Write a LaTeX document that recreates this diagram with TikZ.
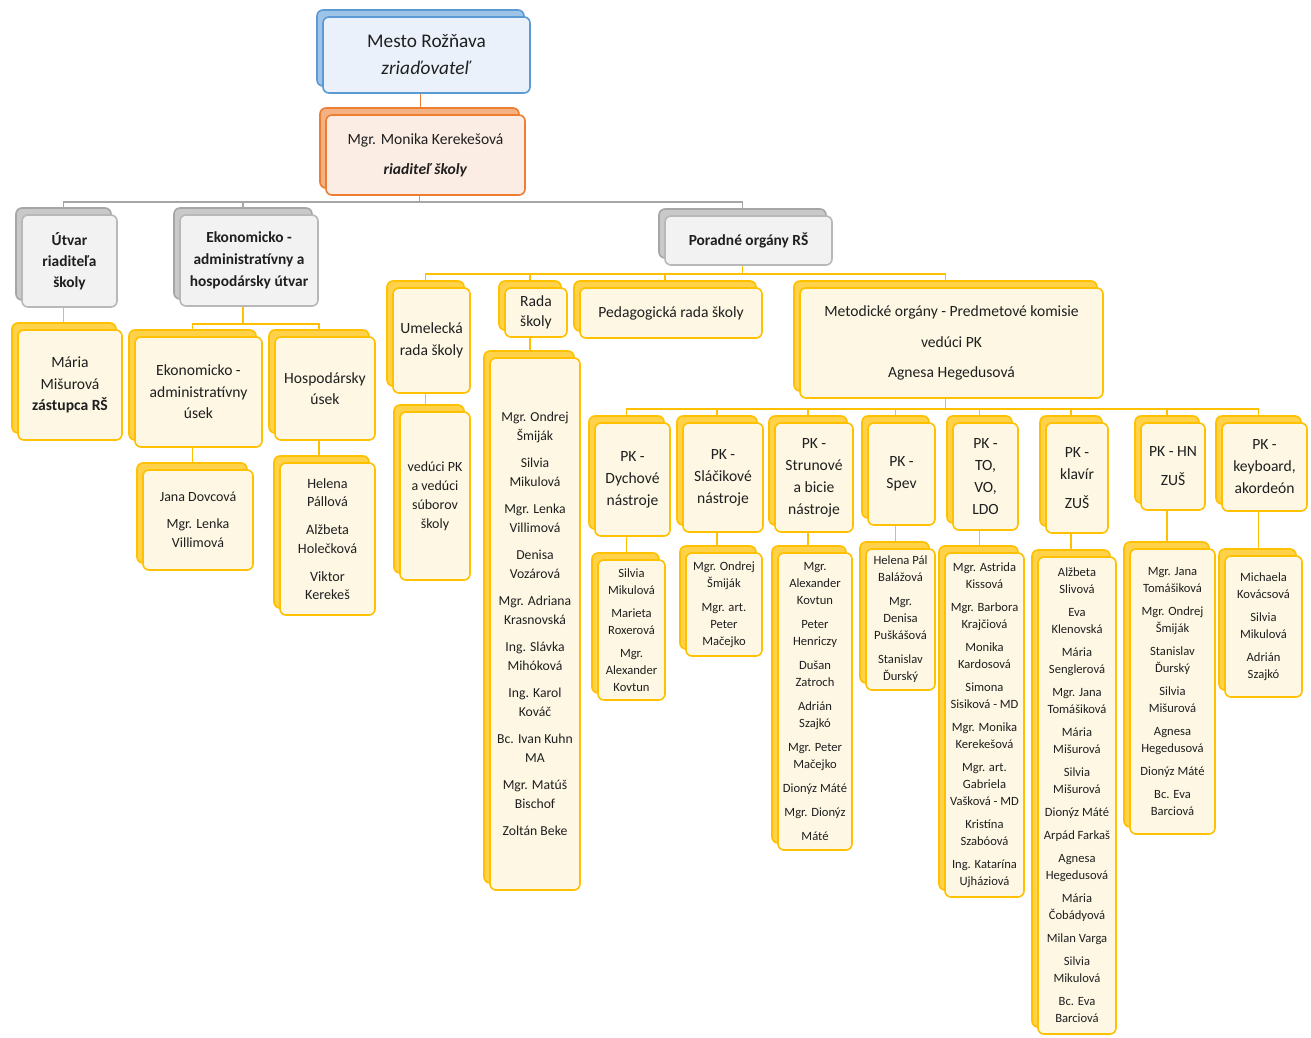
\documentclass[tikz,border=0pt]{standalone}
\usepackage{fontspec}
\setmainfont{Carlito}
\usepackage{xcolor}
\usepackage{tikz}
\usetikzlibrary{calc}
\usetikzlibrary{shadows}
\usetikzlibrary{backgrounds}

\definecolor{goldline}{HTML}{FFC000}
\definecolor{goldback}{HTML}{FFD24A}
\definecolor{goldfront}{HTML}{FDF7E4}
\definecolor{grayline}{HTML}{A6A6A6}
\definecolor{grayback}{HTML}{C9C9C9}
\definecolor{grayfront}{HTML}{F2F2F2}
\definecolor{blueline}{HTML}{5B9BD5}
\definecolor{blueback}{HTML}{9DC3E6}
\definecolor{bluefront}{HTML}{EAF1FA}
\definecolor{orangeline}{HTML}{ED7D31}
\definecolor{orangeback}{HTML}{F4B183}
\definecolor{orangefront}{HTML}{FCEDE4}

\tikzstyle{box} = [rounded corners=6pt, line width=1.6pt, align=center, inner sep=0pt, text=black!88]
\tikzstyle{goldbox} = [box, draw=goldline, fill=goldfront, copy shadow={shadow xshift=-6pt, shadow yshift=7pt, draw=goldline, fill=goldback, line width=1.6pt}]
\tikzstyle{graybox} = [box, draw=grayline!80, fill=grayfront, copy shadow={shadow xshift=-6pt, shadow yshift=7pt, draw=grayline, fill=grayback, line width=1.6pt}]
\tikzstyle{bluebox} = [box, draw=blueline, fill=bluefront, copy shadow={shadow xshift=-6pt, shadow yshift=7pt, draw=blueline, fill=blueback, line width=1.6pt}]
\tikzstyle{orangebox} = [box, draw=orangeline, fill=orangefront, copy shadow={shadow xshift=-6pt, shadow yshift=7pt, draw=orangeline, fill=orangeback, line width=1.6pt}]
\tikzstyle{yline} = [draw=goldline, line width=1.5pt]
\tikzstyle{gline} = [draw=grayline, line width=1.5pt]
\tikzstyle{oline} = [draw=orangeline, line width=1.5pt]
\tikzstyle{title} = [font=\fontsize{15.6}{22}\selectfont]
\tikzstyle{list} = [font=\fontsize{12.6}{17}\selectfont]

\begin{document}
\begin{tikzpicture}[x = 1pt, y = -1pt]
	\useasboundingbox (0, 0) rectangle (1311, 1037) ;

	% top
	\node[bluebox, minimum width=207pt, minimum height=76pt, font=\fontsize{19.3}{27}\selectfont] (mesto) at (426.5, 55) {Mesto Rožňava\\\textit{zriaďovateľ}} ;
	\node[orangebox, minimum width=199pt, minimum height=80pt, font=\fontsize{15.6}{19}\selectfont] (riaditel) at (425.5, 155) {Mgr. Monika Kerekešová\\[11pt]\textbf{\textit{riaditeľ školy}}} ;

	% second level
	\node[graybox, minimum width=95pt, minimum height=92pt, font=\bfseries\fontsize{15.4}{21}\selectfont] (utvar) at (69.5, 261) {Útvar\\riaditeľa\\školy} ;
	\node[graybox, minimum width=138pt, minimum height=91pt, font=\bfseries\fontsize{15.4}{22}\selectfont] (ekon) at (249, 260.5) {Ekonomicko -\\administratívny a\\hospodársky útvar} ;
	\node[graybox, minimum width=167pt, minimum height=49pt, font=\bfseries\fontsize{15.4}{20}\selectfont] (porad) at (748.5, 240.5) {Poradné orgány RŠ} ;

	% left part
	\node[goldbox, minimum width=104pt, minimum height=110pt, font=\fontsize{15.6}{21.5}\selectfont] (zastupca) at (70, 385) {Mária\\Mišurová\\\textbf{zástupca RŠ}} ;
	\node[goldbox, minimum width=127pt, minimum height=110pt, font=\fontsize{15.6}{21.5}\selectfont] (ekusek) at (198.5, 392) {Ekonomicko -\\administratívny\\úsek} ;
	\node[goldbox, minimum width=100pt, minimum height=103pt, font=\fontsize{15.6}{21}\selectfont] (hospusek) at (325, 388.5) {Hospodársky\\úsek} ;
	\node[goldbox, minimum width=110pt, minimum height=100pt, font=\fontsize{14}{19}\selectfont] (ekclen) at (198, 520) {Jana Dovcová\\[8pt]Mgr. Lenka\\Villimová} ;
	\node[goldbox, minimum width=95pt, minimum height=152pt, font=\fontsize{14.2}{18.5}\selectfont] (hospclen) at (327.5, 539) {Helena\\Pállová\\[9.5pt]Alžbeta\\Holečková\\[9.5pt]Viktor\\Kerekeš} ;

	% poradne organy
	\node[goldbox, minimum width=77pt, minimum height=105pt, font=\fontsize{15.6}{22}\selectfont] (umel) at (431.5, 340.5) {Umelecká\\rada školy} ;
	\node[goldbox, minimum width=70pt, minimum height=168pt, font=\fontsize{14}{19}\selectfont] (umelclen) at (435, 496) {vedúci PK\\a vedúci\\súborov\\školy} ;
	\node[goldbox, minimum width=62pt, minimum height=49pt, font=\fontsize{15.6}{20}\selectfont] (rada) at (536, 312.5) {Rada\\školy} ;
	\node[goldbox, minimum width=90pt, minimum height=532pt, font=\fontsize{13.7}{18.5}\selectfont] (radaclen) at (535, 624) {Mgr. Ondrej\\Šmiják\\[9pt]Silvia\\Mikulová\\[9pt]Mgr. Lenka\\Villimová\\[9pt]Denisa\\Vozárová\\[9pt]Mgr. Adriana\\Krasnovská\\[9pt]Ing. Slávka\\Mihóková\\[9pt]Ing. Karol\\Kováč\\[9pt]Bc. Ivan Kuhn\\MA\\[9pt]Mgr. Matúš\\Bischof\\[9pt]Zoltán Beke} ;
	\node[goldbox, minimum width=182pt, minimum height=50pt, font=\fontsize{15.6}{20}\selectfont] (peda) at (671, 313) {Pedagogická rada školy} ;
	\node[goldbox, minimum width=303pt, minimum height=110pt, font=\fontsize{15.6}{19}\selectfont] (meto) at (951.5, 343) {Metodické orgány - Predmetové komisie\\[11.5pt]vedúci PK\\[11.5pt]Agnesa Hegedusová} ;

	% predmetove komisie
	\node[goldbox, title, minimum width=75pt, minimum height=113pt] (pkdych) at (632.5, 479.5) {PK -\\Dychové\\nástroje} ;
	\node[goldbox, title, minimum width=80pt, minimum height=109pt] (pkslac) at (723, 477.5) {PK -\\Sláčikové\\nástroje} ;
	\node[goldbox, title, minimum width=78pt, minimum height=109pt] (pkstrun) at (814, 477.5) {PK -\\Strunové\\a bicie\\nástroje} ;
	\node[goldbox, title, minimum width=67pt, minimum height=102pt] (pkspev) at (901.5, 474) {PK -\\Spev} ;
	\node[goldbox, title, minimum width=65pt, minimum height=107pt] (pkto) at (985.5, 476.5) {PK -\\TO,\\VO,\\LDO} ;
	\node[goldbox, title, minimum width=62pt, minimum height=110pt] (pkklav) at (1077, 478) {PK -\\klavír\\[7pt]ZUŠ} ;
	\node[goldbox, title, minimum width=64pt, minimum height=87pt] (pkhn) at (1173, 466.5) {PK - HN\\[7pt]ZUŠ} ;
	\node[goldbox, title, minimum width=85pt, minimum height=88pt] (pkkeyb) at (1264.5, 467) {PK -\\keyboard,\\akordeón} ;

	% clenovia komisii
	\node[goldbox, list, minimum width=67pt, minimum height=140pt] (dychclen) at (631.5, 630) {Silvia\\Mikulová\\[6pt]Marieta\\Roxerová\\[6pt]Mgr.\\Alexander\\Kovtun} ;
	\node[goldbox, list, minimum width=76pt, minimum height=103pt] (slacclen) at (724, 604.5) {Mgr. Ondrej\\Šmiják\\[7pt]Mgr. art.\\Peter\\Mačejko} ;
	\node[goldbox, list, minimum width=74pt, minimum height=297pt] (strunclen) at (815, 701.5) {Mgr.\\Alexander\\Kovtun\\[7pt]Peter\\Henriczy\\[7pt]Dušan\\Zatroch\\[7pt]Adrián\\Szajkó\\[7pt]Mgr. Peter\\Mačejko\\[7pt]Dionýz Máté\\[7pt]Mgr. Dionýz\\[7pt]Máté} ;
	\node[goldbox, list, minimum width=69pt, minimum height=141pt] (spevclen) at (900.5, 619.5) {Helena Pál\\Balážová\\[7pt]Mgr.\\Denisa\\Puškášová\\[7pt]Stanislav\\Ďurský} ;
	\node[goldbox, list, minimum width=79pt, minimum height=344pt] (toclen) at (984.5, 725) {Mgr. Astrida\\Kissová\\[6pt]Mgr. Barbora\\Krajčiová\\[6pt]Monika\\Kardosová\\[6pt]Simona\\Sisiková - MD\\[6pt]Mgr. Monika\\Kerekešová\\[6pt]Mgr. art.\\Gabriela\\Vašková - MD\\[6pt]Kristína\\Szabóová\\[6pt]Ing. Katarína\\Ujháziová} ;
	\node[goldbox, list, minimum width=78pt, minimum height=477pt] (klavclen) at (1077, 795.5) {Alžbeta\\Slivová\\[6pt]Eva\\Klenovská\\[6pt]Mária\\Senglerová\\[6pt]Mgr. Jana\\Tomášiková\\[6pt]Mária\\Mišurová\\[6pt]Silvia\\Mišurová\\[6pt]Dionýz Máté\\[6pt]Arpád Farkaš\\[6pt]Agnesa\\Hegedusová\\[6pt]Mária\\Čobádyová\\[6pt]Milan Varga\\[6pt]Silvia\\Mikulová\\[6pt]Bc. Eva\\Barciová} ;
	\node[goldbox, list, minimum width=85pt, minimum height=285pt] (hnclen) at (1172.5, 691.5) {Mgr. Jana\\Tomášiková\\[6pt]Mgr. Ondrej\\Šmiják\\[6pt]Stanislav\\Ďurský\\[6pt]Silvia\\Mišurová\\[6pt]Agnesa\\Hegedusová\\[6pt]Dionýz Máté\\[6pt]Bc. Eva\\Barciová} ;
	\node[goldbox, list, minimum width=77pt, minimum height=141pt] (keybclen) at (1263.5, 626.5) {Michaela\\Kovácsová\\[6pt]Silvia\\Mikulová\\[6pt]Adrián\\Szajkó} ;

	% spojnice
	\begin{scope}[on background layer]
		\draw[oline] ([xshift=-6pt]mesto.south) -- ([xshift=-6pt]mesto.south |- riaditel.north) ;

		\draw[gline] ([xshift=-6pt]riaditel.south) -- ++(0, 6) coordinate (bus1) ;
		\foreach \c in {utvar, ekon, porad}
		{
			\draw[gline] (bus1) -| ([xshift=-6pt]\c.north) ;
		}

		\draw[yline] ([xshift=-6pt]ekon.south) -- ++(0, 17) coordinate (bus2) ;
		\foreach \c in {ekusek, hospusek}
		{
			\draw[yline] (bus2) -| ([xshift=-6pt]\c.north) ;
		}

		\draw[yline] ([xshift=-6pt]porad.south) -- ++(0, 8) coordinate (bus3) ;
		\foreach \c in {umel, rada, peda, meto}
		{
			\draw[yline] (bus3) -| ([xshift=-6pt]\c.north) ;
		}

		\draw[yline] ([xshift=-6pt]meto.south) -- ++(0, 10) coordinate (bus4) ;
		\foreach \c in {pkdych, pkslac, pkstrun, pkspev, pkto, pkklav, pkhn, pkkeyb}
		{
			\draw[yline] (bus4) -| ([xshift=-6pt]\c.north) ;
		}

		\foreach \p/\c in {utvar/zastupca, ekusek/ekclen, hospusek/hospclen, umel/umelclen, rada/radaclen, pkdych/dychclen, pkslac/slacclen, pkstrun/strunclen, pkspev/spevclen, pkto/toclen, pkklav/klavclen, pkhn/hnclen, pkkeyb/keybclen}
		{
			\draw[yline] ([xshift=-6pt]\p.south) -- ([xshift=-6pt]\p.south |- \c.north) ;
		}
	\end{scope}

\end{tikzpicture}
\end{document}
